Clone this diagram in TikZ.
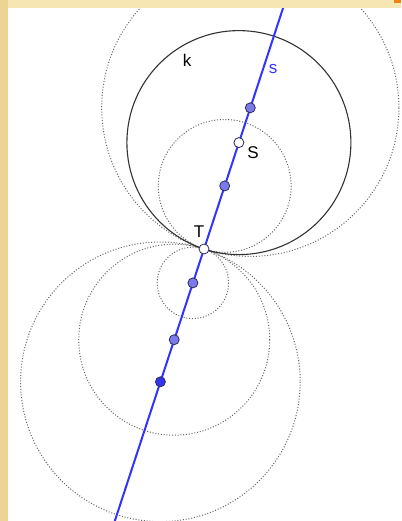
\documentclass[tikz,border=0pt]{standalone}
\usepackage{fontspec}
\setmainfont{Liberation Sans}
\definecolor{lineblue}{RGB}{51,51,255}
\definecolor{ptfill}{RGB}{122,122,235}
\definecolor{ptdark}{RGB}{51,51,240}
\definecolor{ptedge}{RGB}{45,45,90}
\definecolor{frametop}{RGB}{246,230,180}
\definecolor{frameleft}{RGB}{236,212,148}
\definecolor{dotgray}{RGB}{100,100,100}
\tikzset{
  dotcirc/.style={draw=dotgray, line width=1pt, dash pattern=on 1pt off 1.8pt},
  kcirc/.style={draw=black!80, line width=1.1pt},
  sline/.style={draw=lineblue, line width=2pt},
  bluept/.style={circle, fill=ptfill, draw=ptedge, line width=0.8pt, minimum size=10pt, inner sep=0pt},
  whitept/.style={circle, fill=white, draw=ptedge, line width=0.8pt, minimum size=10pt, inner sep=0pt},
  lbl/.style={font=\fontsize{17}{19}\selectfont, inner sep=0pt}
}
\begin{document}
\begin{tikzpicture}[x=1pt,y=-1pt]
\useasboundingbox (0,0) rectangle (401,521);
\fill[white] (0,0) rectangle (401,521);
\begin{scope}
\clip (0,0) rectangle (401,521);
% centres
\coordinate (Tc) at (204,249);
\coordinate (Sc) at (238.9,142.6);
\coordinate (P1c) at (250.3,107.8);
\coordinate (P2c) at (224.7,185.9);
\coordinate (P3c) at (192.9,282.9);
\coordinate (P4c) at (174.2,339.7);
\coordinate (P5c) at (160.4,381.8);
\coordinate (sTop) at (285.7,0);
\coordinate (sBot) at (114.8,521);
% dotted circles
\draw[dotcirc] (P1c) circle[radius=148.6];
\draw[dotcirc] (P2c) circle[radius=66.4];
\draw[dotcirc] (P3c) circle[radius=35.7];
\draw[dotcirc] (P4c) circle[radius=95.5];
\draw[dotcirc] (P5c) circle[radius=139.8];
% circle k
\draw[kcirc] (Sc) circle[radius=112];
% line s
\draw[sline] (sTop) -- (sBot);
% points
\node[bluept] (P1) at (P1c) {};
\node[bluept] (P2) at (P2c) {};
\node[bluept] (P3) at (P3c) {};
\node[bluept] (P4) at (P4c) {};
\node[bluept, fill=ptdark] (P5) at (P5c) {};
\node[whitept] (S) at (Sc) {};
\node[whitept] (T) at (Tc) {};
% labels
\node[lbl] (lk) at (187,60) {k};
\node[lbl, text=lineblue] (ls) at (273,69) {s};
\node[lbl] (lS) at (253,153) {S};
\node[lbl] (lT) at (199,232) {T};
% frame
\fill[frametop] (0,0) rectangle (401,8);
\fill[frameleft] (0,0) rectangle (8,521);
\fill[orange!80!brown] (394,0) rectangle (401,3);
\end{scope}
\end{tikzpicture}
\end{document}
